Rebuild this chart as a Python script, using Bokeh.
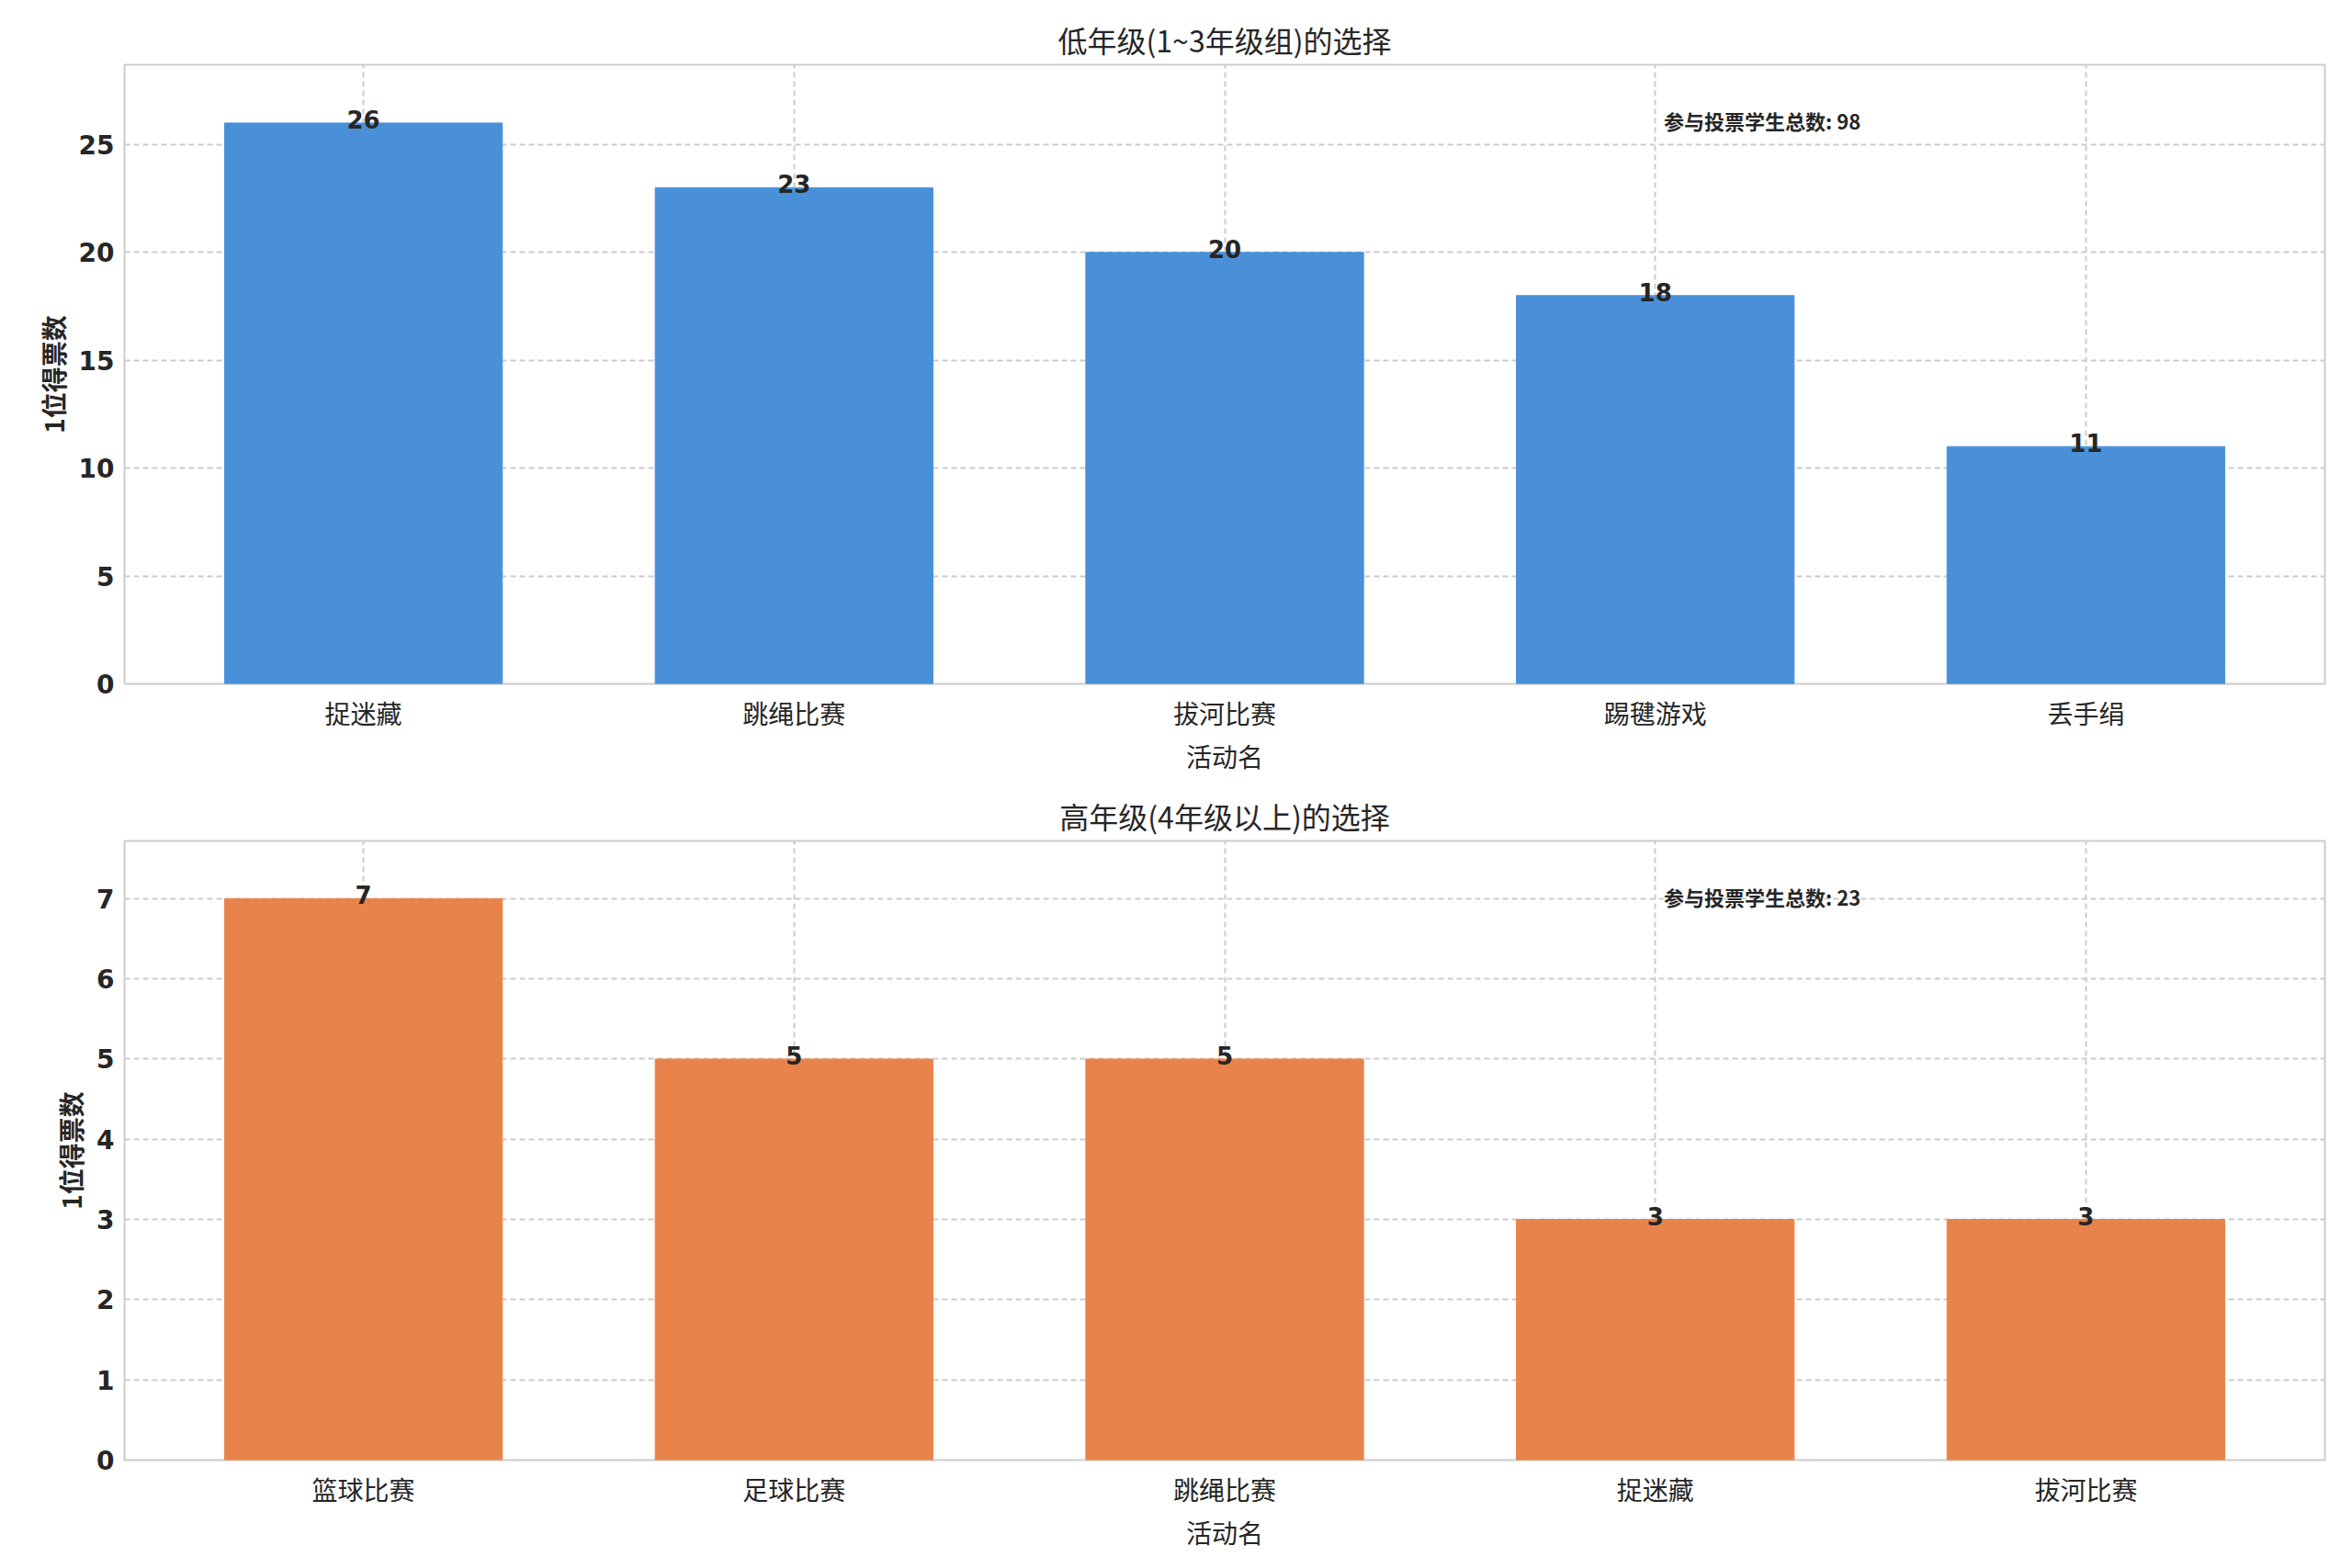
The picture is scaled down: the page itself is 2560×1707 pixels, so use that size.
from bokeh.plotting import figure
from bokeh.layouts import column
from bokeh.models import Label, FixedTicker, Range1d
from bokeh.embed import file_html
from bokeh.resources import INLINE

title1 = "低年级(1~3年级组)的选择"
cats1 = ["捉迷藏", "跳绳比赛", "拔河比赛", "踢毽游戏", "丢手绢"]
vals1 = [26, 23, 20, 18, 11]
total1 = 98
title2 = "高年级(4年级以上)的选择"
cats2 = ["篮球比赛", "足球比赛", "跳绳比赛", "捉迷藏", "拔河比赛"]
vals2 = [7, 5, 5, 3, 3]
total2 = 23
xlabel = "活动名"
ylabel = "1位得票数"
note = "参与投票学生总数"

CJK = "Noto Sans CJK SC"

def make(title, cats, vals, total, color, ymax, yticks, h, minb):
    xs = list(range(len(cats)))
    p = figure(width=2544, height=h, output_backend="svg", toolbar_location=None,
               x_range=Range1d(-0.555, len(cats) - 0.445), y_range=Range1d(0, ymax),
               min_border_left=135, min_border_right=14, min_border_top=minb, min_border_bottom=10)
    p.vbar(x=xs, top=vals, width=0.645, color=color)
    for x, v in zip(xs, vals):
        p.add_layout(Label(x=x, y=v, text=str(v), text_align="center", text_baseline="bottom",
                           text_font="DejaVu Sans", text_font_style="bold", text_font_size="26px",
                           text_color="#262626", y_offset=-6))
    p.add_layout(Label(x=3.02, y=ymax * 0.91, text=f"{note}: {total}", text_align="left",
                       text_baseline="middle", text_font=CJK, text_font_style="bold",
                       text_font_size="22px", text_color="#262626"))
    p.title.text = title
    p.title.align = "center"
    p.title.text_font = CJK
    p.title.text_font_size = "32px"
    p.title.text_font_style = "normal"
    p.title.text_color = "#262626"
    p.xaxis.ticker = FixedTicker(ticks=xs)
    p.xaxis.major_label_overrides = {i: c for i, c in enumerate(cats)}
    p.yaxis.ticker = FixedTicker(ticks=yticks)
    p.xaxis.axis_label = xlabel
    p.yaxis.axis_label = ylabel
    for ax in (p.xaxis, p.yaxis):
        ax.axis_label_text_font = CJK
        ax.axis_label_text_font_size = "28px"
        ax.axis_label_text_font_style = "normal"
        ax.axis_label_text_color = "#262626"
        ax.axis_line_color = None
        ax.major_tick_line_color = None
        ax.minor_tick_line_color = None
        ax.major_label_text_color = "#262626"
        ax.major_label_text_font_size = "28px"
    p.yaxis.axis_label_text_font_style = "bold"
    p.xaxis.major_label_text_font = CJK
    p.yaxis.major_label_text_font = "DejaVu Sans"
    p.yaxis.major_label_text_font_style = "bold"
    p.xaxis.axis_label_standoff = 4
    p.grid.grid_line_color = "#cccccc"
    p.grid.grid_line_dash = "6 4"
    p.grid.grid_line_width = 2
    p.outline_line_color = "#cccccc"
    p.outline_line_width = 2
    p.background_fill_color = "white"
    return p

p1 = make(title1, cats1, vals1, total1, "#4a90d9", 28.7, [0, 5, 10, 15, 20, 25], 845, 70)
p2 = make(title2, cats2, vals2, total2, "#e8844b", 7.72, list(range(8)), 845, 70)
lay = column(p1, p2, spacing=0)
open("out.html", "w").write(file_html(lay, INLINE))
